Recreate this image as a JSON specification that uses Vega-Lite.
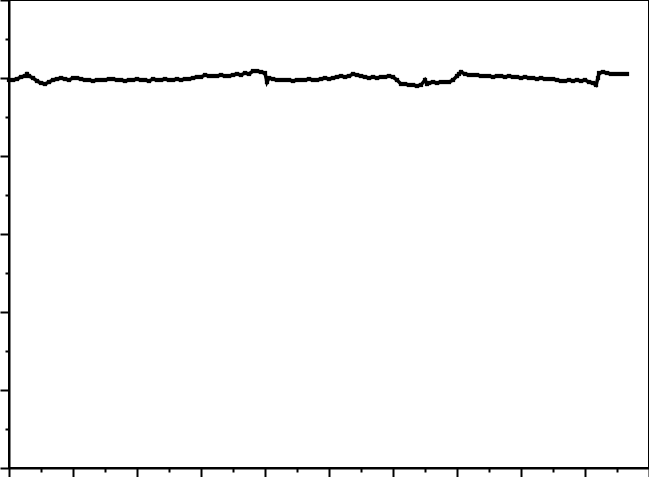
{
  "$schema": "https://vega.github.io/schema/vega-lite/v6.json",
  "width": 640,
  "height": 468,
  "autosize": {"type": "none"},
  "padding": {"left": 9, "top": 0, "right": 0, "bottom": 9},
  "background": "white",
  "config": {
    "view": {"stroke": "black", "strokeWidth": 2},
    "axis": {
      "labels": false,
      "title": null,
      "grid": false,
      "domainColor": "black",
      "domainWidth": 2,
      "tickColor": "black",
      "tickWidth": 2
    }
  },
  "data": {"values": [
    {"x": 0, "y": 0.9949}, {"x": 0.0625, "y": 0.9949}, {"x": 0.125, "y": 0.9974}, {"x": 0.1875, "y": 1.0026},
    {"x": 0.25, "y": 1.0051}, {"x": 0.281, "y": 1.0103}, {"x": 0.3125, "y": 1.0051}, {"x": 0.375, "y": 1.0},
    {"x": 0.4375, "y": 0.9923}, {"x": 0.5, "y": 0.9872}, {"x": 0.5625, "y": 0.9846}, {"x": 0.625, "y": 0.9897},
    {"x": 0.6875, "y": 0.9949}, {"x": 0.75, "y": 0.9974}, {"x": 0.8125, "y": 1.0}, {"x": 0.875, "y": 0.9974},
    {"x": 0.9375, "y": 0.9949}, {"x": 1.0, "y": 1.0}, {"x": 1.0625, "y": 1.0}, {"x": 1.125, "y": 0.9974},
    {"x": 1.1875, "y": 0.9949}, {"x": 1.25, "y": 0.9949}, {"x": 1.3125, "y": 0.9923}, {"x": 1.375, "y": 0.9949},
    {"x": 1.4375, "y": 0.9949}, {"x": 1.5, "y": 0.9949}, {"x": 1.5625, "y": 0.9974}, {"x": 1.625, "y": 0.9974},
    {"x": 1.6875, "y": 0.9949}, {"x": 1.75, "y": 0.9949}, {"x": 1.8125, "y": 0.9923}, {"x": 1.875, "y": 0.9949},
    {"x": 1.9375, "y": 0.9949}, {"x": 2.0, "y": 0.9974}, {"x": 2.0625, "y": 0.9949}, {"x": 2.125, "y": 0.9949},
    {"x": 2.1875, "y": 0.9923}, {"x": 2.25, "y": 0.9974}, {"x": 2.3125, "y": 0.9949}, {"x": 2.375, "y": 0.9949},
    {"x": 2.4375, "y": 0.9974}, {"x": 2.5, "y": 0.9949}, {"x": 2.5625, "y": 0.9949}, {"x": 2.625, "y": 0.9974},
    {"x": 2.6875, "y": 0.9949}, {"x": 2.75, "y": 0.9974}, {"x": 2.8125, "y": 0.9974}, {"x": 2.875, "y": 1.0},
    {"x": 2.9375, "y": 1.0026}, {"x": 3.0, "y": 1.0026}, {"x": 3.0625, "y": 1.0077}, {"x": 3.125, "y": 1.0051},
    {"x": 3.1875, "y": 1.0051}, {"x": 3.25, "y": 1.0051}, {"x": 3.3125, "y": 1.0077}, {"x": 3.375, "y": 1.0051},
    {"x": 3.4375, "y": 1.0051}, {"x": 3.5, "y": 1.0077}, {"x": 3.5625, "y": 1.0103}, {"x": 3.625, "y": 1.0077},
    {"x": 3.6875, "y": 1.0128}, {"x": 3.75, "y": 1.0103}, {"x": 3.8125, "y": 1.0179}, {"x": 3.875, "y": 1.0179},
    {"x": 3.9375, "y": 1.0154}, {"x": 4.0, "y": 1.0128}, {"x": 4.031, "y": 0.9897}, {"x": 4.0625, "y": 1.0},
    {"x": 4.125, "y": 0.9974}, {"x": 4.1875, "y": 0.9949}, {"x": 4.25, "y": 0.9949}, {"x": 4.3125, "y": 0.9949},
    {"x": 4.375, "y": 0.9949}, {"x": 4.4375, "y": 0.9923}, {"x": 4.5, "y": 0.9949}, {"x": 4.5625, "y": 0.9949},
    {"x": 4.625, "y": 0.9949}, {"x": 4.6875, "y": 0.9974}, {"x": 4.75, "y": 0.9949}, {"x": 4.8125, "y": 0.9949},
    {"x": 4.875, "y": 0.9974}, {"x": 4.9375, "y": 1.0}, {"x": 5.0, "y": 0.9974}, {"x": 5.0625, "y": 1.0},
    {"x": 5.125, "y": 1.0026}, {"x": 5.1875, "y": 1.0051}, {"x": 5.25, "y": 1.0026}, {"x": 5.3125, "y": 1.0051},
    {"x": 5.375, "y": 1.0103}, {"x": 5.4375, "y": 1.0077}, {"x": 5.5, "y": 1.0051}, {"x": 5.5625, "y": 1.0026},
    {"x": 5.625, "y": 1.0}, {"x": 5.6875, "y": 1.0026}, {"x": 5.75, "y": 1.0}, {"x": 5.8125, "y": 1.0026},
    {"x": 5.875, "y": 1.0026}, {"x": 5.9375, "y": 1.0051}, {"x": 6.0, "y": 1.0026}, {"x": 6.0625, "y": 0.9949},
    {"x": 6.125, "y": 0.9846}, {"x": 6.1875, "y": 0.9846}, {"x": 6.25, "y": 0.9821}, {"x": 6.3125, "y": 0.9821},
    {"x": 6.375, "y": 0.9795}, {"x": 6.4375, "y": 0.9821}, {"x": 6.5, "y": 0.9949}, {"x": 6.531, "y": 0.9846},
    {"x": 6.5625, "y": 0.9872}, {"x": 6.625, "y": 0.9897}, {"x": 6.6875, "y": 0.9872}, {"x": 6.75, "y": 0.9897},
    {"x": 6.8125, "y": 0.9897}, {"x": 6.875, "y": 0.9897}, {"x": 6.9375, "y": 0.9949}, {"x": 7.0, "y": 1.0051},
    {"x": 7.031, "y": 1.0103}, {"x": 7.0625, "y": 1.0154}, {"x": 7.125, "y": 1.0103}, {"x": 7.1875, "y": 1.0077},
    {"x": 7.25, "y": 1.0077}, {"x": 7.3125, "y": 1.0077}, {"x": 7.375, "y": 1.0051}, {"x": 7.4375, "y": 1.0051},
    {"x": 7.5, "y": 1.0051}, {"x": 7.5625, "y": 1.0026}, {"x": 7.625, "y": 1.0051}, {"x": 7.6875, "y": 1.0051},
    {"x": 7.75, "y": 1.0026}, {"x": 7.8125, "y": 1.0051}, {"x": 7.875, "y": 1.0026}, {"x": 7.9375, "y": 1.0026},
    {"x": 8.0, "y": 1.0}, {"x": 8.0625, "y": 1.0026}, {"x": 8.125, "y": 1.0}, {"x": 8.1875, "y": 1.0},
    {"x": 8.25, "y": 0.9974}, {"x": 8.3125, "y": 1.0}, {"x": 8.375, "y": 0.9974}, {"x": 8.4375, "y": 0.9974},
    {"x": 8.5, "y": 0.9974}, {"x": 8.5625, "y": 0.9949}, {"x": 8.625, "y": 0.9923}, {"x": 8.6875, "y": 0.9923},
    {"x": 8.75, "y": 0.9949}, {"x": 8.8125, "y": 0.9923}, {"x": 8.875, "y": 0.9949}, {"x": 8.9375, "y": 0.9923},
    {"x": 9.0, "y": 0.9949}, {"x": 9.0625, "y": 0.9897}, {"x": 9.125, "y": 0.9872}, {"x": 9.172, "y": 0.9821},
    {"x": 9.203, "y": 1.0}, {"x": 9.219, "y": 1.0128}, {"x": 9.281, "y": 1.0154}, {"x": 9.344, "y": 1.0128},
    {"x": 9.406, "y": 1.0103}, {"x": 9.469, "y": 1.0103}, {"x": 9.531, "y": 1.0103}, {"x": 9.594, "y": 1.0103},
    {"x": 9.656, "y": 1.0103}
  ]},
  "encoding": {
    "x": {
      "field": "x", "type": "quantitative",
      "scale": {"domain": [0, 10], "nice": false, "zero": false},
      "axis": {
        "values": [0, 0.5, 1, 1.5, 2, 2.5, 3, 3.5, 4, 4.5, 5, 5.5, 6, 6.5, 7, 7.5, 8, 8.5, 9, 9.5, 10],
        "tickSize": {"condition": {"test": "datum.value % 1 === 0", "value": 10}, "value": 4}
      }
    },
    "y": {
      "field": "y", "type": "quantitative",
      "scale": {"domain": [0, 1.2], "nice": false, "zero": false},
      "axis": {
        "values": [0, 0.1, 0.2, 0.3, 0.4, 0.5, 0.6, 0.7, 0.8, 0.9, 1.0, 1.1, 1.2],
        "tickSize": {"condition": {"test": "round(datum.value * 10) % 2 === 0", "value": 9}, "value": 4}
      }
    }
  },
  "layer": [
    {"mark": {"type": "line", "color": "black", "strokeWidth": 3.5}},
    {"mark": {"type": "point", "shape": "square", "filled": true, "color": "black", "size": 18, "opacity": 1}}
  ]
}
